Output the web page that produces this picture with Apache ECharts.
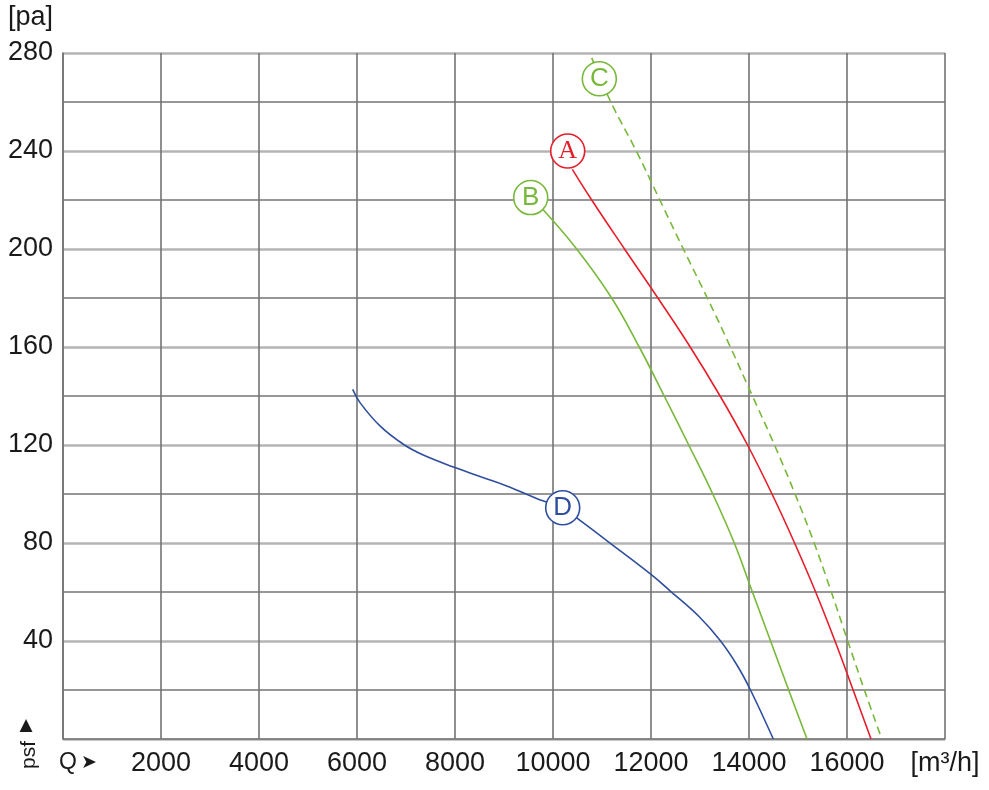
<!DOCTYPE html>
<html>
<head>
<meta charset="utf-8">
<script src="https://cdn.jsdelivr.net/npm/echarts@6/dist/echarts.min.js"></script>
<style>
  html, body { margin: 0; padding: 0; background: #fff; }
  #chart { width: 989px; height: 790px; }
</style>
</head>
<body>
<div id="chart"></div>
<script>
// fan curves, [Q m3/h, psf pa]
const curveA = [[10394, 232.5], [10790, 220], [11460, 200], [12140, 180], [12800, 160], [13410, 140],
  [13970, 120], [14470, 100], [14930, 80], [15360, 60], [15755, 40], [16125, 20], [16490, 0]];
const curveB = [[9800, 216], [10483, 200], [11197, 180], [11760, 160], [12270, 140], [12770, 120],
  [13260, 100], [13700, 80], [14070, 60], [14440, 40], [14810, 20], [15184, 0]];
const curveC = [[10790, 278], [11180, 260], [11700, 240], [12180, 220], [12660, 200], [13150, 180],
  [13620, 160], [14070, 140], [14520, 120], [14940, 100], [15330, 80], [15680, 60], [16015, 40],
  [16355, 20], [16710, 0]];
const curveD = [[5912, 142.7], [6061, 137.3], [6469, 127.8], [6946, 120.3], [7353, 115.9], [8000, 110.8],
  [8510, 107.1], [9055, 103.3], [9806, 97.1], [10198, 94.4], [10600, 88.5], [11096, 81], [12000, 67.2],
  [12388, 60.5], [12980, 50], [13420, 40], [13760, 30], [14030, 20], [14496, 0]];

// circled curve labels
const tagA = [10300, 240];
const tagB = [9545, 221];
const tagC = [10945, 269.5];
const tagD = [10198, 94.4];

const RED = '#e61e2b';
const GREEN = '#78b83a';
const BLUE = '#2f4f9e';
const FONT = 'Liberation Sans';

function tag(coord, letter, color, family) {
    return {
        symbol: 'circle',
        symbolSize: 34,
        silent: true,
        data: [{ coord: coord, value: letter }],
        itemStyle: { color: '#fff', borderColor: color, borderWidth: 1.6 },
        label: {
            show: true,
            position: 'inside',
            formatter: letter,
            color: color,
            fontFamily: family || FONT,
            fontSize: 26
        }
    };
}

function line(name, data, color, dashed, mark) {
    return {
        name: name,
        type: 'line',
        data: data,
        smooth: 0.4,
        showSymbol: false,
        silent: true,
        lineStyle: { color: color, width: 1.6, type: dashed ? [8, 5] : 'solid' },
        markPoint: mark,
        z: 3
    };
}

const chart = echarts.init(document.getElementById('chart'));

chart.setOption({
    animation: false,
    backgroundColor: '#fff',
    grid: { left: 63, right: 44, top: 53, bottom: 51, containLabel: false },
    xAxis: {
        type: 'value',
        min: 0,
        max: 18000,
        interval: 2000,
        axisLine: { show: true, lineStyle: { color: '#747474', width: 1.6 } },
        axisTick: { show: false },
        axisLabel: {
            color: '#1a1a1a',
            fontFamily: FONT,
            fontSize: 27,
            margin: 11,
            showMaxLabel: true,
            formatter: v => (v === 0 ? '' : v === 18000 ? '[m³/h]' : String(v))
        },
        splitLine: { show: true, lineStyle: { color: '#747474', width: 1.6 } }
    },
    yAxis: {
        type: 'value',
        min: 0,
        max: 280,
        interval: 40,
        axisLine: { show: true, lineStyle: { color: '#747474', width: 1.6 } },
        axisTick: { show: false },
        minorTick: { show: false, splitNumber: 2 },
        axisLabel: {
            color: '#1a1a1a',
            fontFamily: FONT,
            fontSize: 27,
            margin: 10,
            formatter: v => (v === 0 ? '' : String(v))
        },
        splitLine: { show: true, lineStyle: { color: '#b4b4b4', width: 2.6 } },
        minorSplitLine: { show: true, lineStyle: { color: '#767676', width: 1.5 } }
    },
    graphic: [
        { type: 'text', left: 8, top: 4, style: { text: '[pa]', fontFamily: FONT, fontSize: 27, fill: '#1a1a1a' } },
        { type: 'text', x: 59, y: 763, style: { text: 'Q', fontFamily: FONT, fontSize: 23, fill: '#1a1a1a', verticalAlign: 'middle' } },
        { type: 'text', x: 81, y: 763, style: { text: '➤', fontFamily: 'DejaVu Sans', fontSize: 19, fill: '#1a1a1a', verticalAlign: 'middle' } },
        {
            type: 'text', x: 29, y: 755, rotation: Math.PI / 2,
            style: { text: 'psf', fontFamily: FONT, fontSize: 21, fill: '#1a1a1a', align: 'center', verticalAlign: 'middle' }
        },
        { type: 'text', x: 26, y: 726, style: { text: '▲', fontFamily: 'DejaVu Sans', fontSize: 17, fill: '#1a1a1a', align: 'center', verticalAlign: 'middle' } }
    ],
    series: [
        line('D', curveD, BLUE, false, tag(tagD, 'D', BLUE)),
        line('B', curveB, GREEN, false, tag(tagB, 'B', GREEN)),
        line('A', curveA, RED, false, tag(tagA, 'A', RED, 'Liberation Serif')),
        line('C', curveC, GREEN, true, tag(tagC, 'C', GREEN))
    ]
});
</script>
</body>
</html>
